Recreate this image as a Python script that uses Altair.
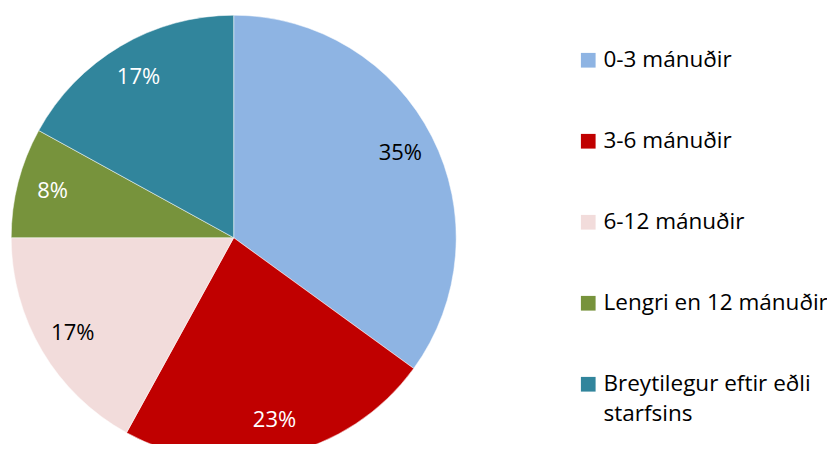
import altair as alt
import pandas as pd

categories = ["0-3 mánuðir", "3-6 mánuðir", "6-12 mánuðir", "Lengri en 12 mánuðir", "Breytilegur eftir eðli starfsins"]
values = [35, 23, 17, 8, 17]
colors = ["#8EB4E3", "#C00000", "#F2DCDB", "#77933C", "#31859C"]
label_colors = ["#000000", "#FFFFFF", "#000000", "#FFFFFF", "#FFFFFF"]

df = pd.DataFrame({"cat": categories, "val": values, "order": list(range(len(categories)))})
df["label"] = df["val"].astype(str) + "%"

CX, CY, R = 225.7, 229.7, 222.5
FONT = "Open Sans"
FS = 22
LFS = 22.5

base = alt.Chart(df).encode(
    theta=alt.Theta("val:Q", stack=True),
    order=alt.Order("order:Q"),
)

arcs = base.mark_arc(radius=R, x=CX, y=CY, stroke="#FFFFFF", strokeWidth=0.5).encode(
    color=alt.Color(
        "cat:N",
        scale=alt.Scale(domain=categories, range=colors),
        sort=categories,
        legend=alt.Legend(
            title=None,
            orient="none",
            legendX=569,
            legendY=41,
            symbolType="square",
            symbolSize=216,
            symbolStrokeWidth=0,
            symbolOpacity=1,
            labelFont=FONT,
            labelFontSize=LFS,
            labelColor="#000000",
            labelBaseline="top",
            labelOffset=4,
            labelLimit=400,
            rowPadding=58,
            padding=0,
            labelExpr="datum.label == 'Breytilegur eftir eðli starfsins' ? ['Breytilegur eftir eðli', 'starfsins'] : datum.label",
        ),
    )
)

texts = base.mark_text(radius=187, x=CX, y=CY, font=FONT, fontSize=FS).encode(
    text="label:N",
    color=alt.Color("cat:N", scale=alt.Scale(domain=categories, range=label_colors), legend=None),
)

chart = (
    alt.layer(arcs, texts)
    .resolve_scale(color="independent")
    .properties(width=819, height=436, autosize=alt.AutoSizeParams(type="none"), padding=0)
    .configure(style={"guide-label": {"dy": -LFS / 2, "lineHeight": 30}})
    .configure_view(stroke=None)
)

chart.save("out.html", embed_options={"renderer": "svg", "actions": False})
